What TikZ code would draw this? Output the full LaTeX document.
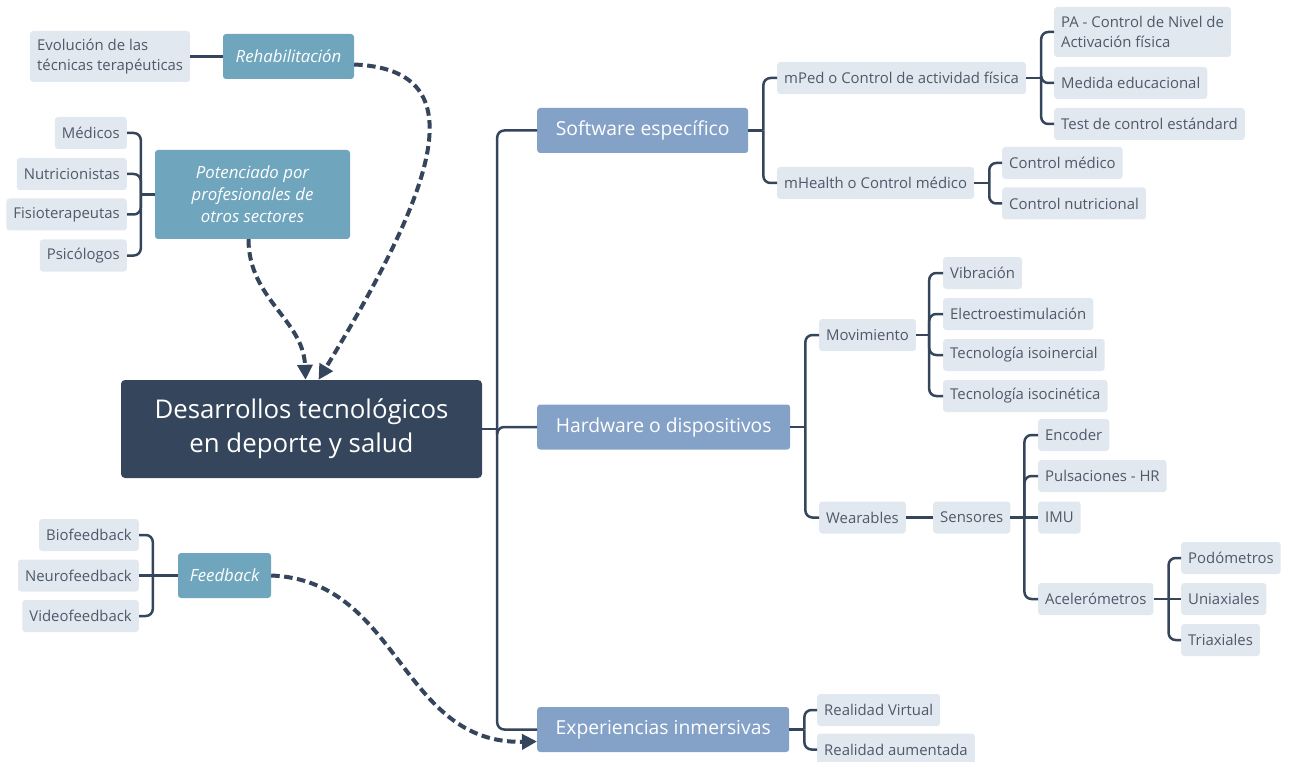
\documentclass[tikz,border=0pt]{standalone}
\usepackage{fontspec}
\setmainfont{Open Sans}
\usetikzlibrary{arrows.meta}
\definecolor{ink}{HTML}{34455C}
\definecolor{branchfill}{HTML}{84A2C8}
\definecolor{sidefill}{HTML}{6FA6BD}
\definecolor{leaffill}{HTML}{E2E8F0}
\definecolor{leaftext}{HTML}{4F5968}
\begin{document}
\begin{tikzpicture}[x=1pt,y=-1pt,
  leaf/.style={fill=leaffill, text=leaftext, rounded corners=3pt,
    font=\fontsize{14.9}{19.5}\selectfont, inner xsep=7pt, inner ysep=0pt,
    minimum height=32pt},
  branchbox/.style={fill=branchfill, text=white, rounded corners=3pt,
    font=\fontsize{19.3}{23}\selectfont, minimum height=45pt, anchor=west},
  sidebox/.style={fill=sidefill, text=white, rounded corners=3pt,
    font=\fontsize{16.8}{22}\selectfont\itshape, align=center},
  rootbox/.style={fill=ink, text=white, rounded corners=4pt,
    font=\fontsize{25.8}{34}\selectfont, align=center,
    minimum width=361pt, minimum height=98pt},
  conn/.style={draw=ink, line width=2.5pt, rounded corners=7pt},
  dashlink/.style={draw=ink, line width=4pt, dash pattern=on 8.5pt off 4.5pt,
    -{Triangle[length=15pt,width=15pt]}}
]
\useasboundingbox (0,0) rectangle (1293,762);

% central topic
\node[rootbox] (Root) at (301.5,429) {Desarrollos tecnológicos\\en deporte y salud};

% left side: floating topics
\node[leaf, anchor=west, align=left, minimum height=51pt] (Evol) at (30,56.5)
  {Evolución de las\\técnicas terapéuticas};
\node[sidebox, minimum width=131pt, minimum height=45pt] (Rehab) at (288.5,56.5) {Rehabilitación};

\node[sidebox, minimum width=195pt, minimum height=89pt] (Pot) at (252.5,194.5)
  {Potenciado por\\profesionales de\\otros sectores};
\node[leaf, anchor=east] (Med) at (127,133) {Médicos};
\node[leaf, anchor=east] (Nut) at (127,174) {Nutricionistas};
\node[leaf, anchor=east] (Fis) at (127,214.5) {Fisioterapeutas};
\node[leaf, anchor=east] (Psi) at (127,255.5) {Psicólogos};

\node[sidebox, minimum width=93pt, minimum height=45pt] (Feed) at (224.5,575.5) {Feedback};
\node[leaf, anchor=east] (Bio) at (139,535) {Biofeedback};
\node[leaf, anchor=east] (Neuro) at (139,575.5) {Neurofeedback};
\node[leaf, anchor=east] (Video) at (139,616) {Videofeedback};

% right side: main branches
\node[branchbox, minimum width=211pt] (Soft) at (537,130.5) {Software específico};
\node[branchbox, minimum width=253pt] (Hard) at (537,427) {Hardware o dispositivos};
\node[branchbox, minimum width=252pt] (Exp) at (537,729.5) {Experiencias inmersivas};

% software
\node[leaf, anchor=west] (mPed) at (777,78) {mPed o Control de actividad física};
\node[leaf, anchor=west] (mHealth) at (777,183) {mHealth o Control médico};
\node[leaf, anchor=west, align=left, minimum height=50pt] (PA) at (1054,32)
  {PA - Control de Nivel de\\Activación física};
\node[leaf, anchor=west] (Edu) at (1054,83) {Medida educacional};
\node[leaf, anchor=west] (Test) at (1054,124) {Test de control estándard};
\node[leaf, anchor=west] (CMed) at (1002,163) {Control médico};
\node[leaf, anchor=west] (CNut) at (1002,203.5) {Control nutricional};

% hardware
\node[leaf, anchor=west] (Mov) at (819,335) {Movimiento};
\node[leaf, anchor=west] (Vib) at (943,273) {Vibración};
\node[leaf, anchor=west] (Elec) at (943,314) {Electroestimulación};
\node[leaf, anchor=west] (Iner) at (943,355) {Tecnología isoinercial};
\node[leaf, anchor=west] (Cine) at (943,396) {Tecnología isocinética};
\node[leaf, anchor=west] (Wear) at (819,517.5) {Wearables};
\node[leaf, anchor=west] (Sens) at (933,517.5) {Sensores};
\node[leaf, anchor=west] (Enc) at (1038,435) {Encoder};
\node[leaf, anchor=west] (Puls) at (1038,476) {Pulsaciones - HR};
\node[leaf, anchor=west] (IMU) at (1038,517.5) {IMU};
\node[leaf, anchor=west] (Acc) at (1038,599) {Acelerómetros};
\node[leaf, anchor=west] (Podo) at (1181,558) {Podómetros};
\node[leaf, anchor=west] (Uni) at (1181,599) {Uniaxiales};
\node[leaf, anchor=west] (Tri) at (1181,640) {Triaxiales};

% immersive
\node[leaf, anchor=west] (RV) at (817,710) {Realidad Virtual};
\node[leaf, anchor=west] (RA) at (817,749.5) {Realidad aumentada};

% bracket junctions
\coordinate (trunk) at ([xshift=15pt]Root.east);
\coordinate (bSoft) at ([xshift=15pt]Soft.east);
\coordinate (bHard) at ([xshift=15pt]Hard.east);
\coordinate (bExp) at ([xshift=15pt]Exp.east);
\coordinate (bmPed) at ([xshift=15pt]mPed.east);
\coordinate (bmHealth) at ([xshift=15pt]mHealth.east);
\coordinate (bMov) at ([xshift=13pt]Mov.east);
\coordinate (bSens) at ([xshift=14pt]Sens.east);
\coordinate (bAcc) at ([xshift=15pt]Acc.east);
\coordinate (bPot) at ([xshift=-14pt]Pot.west);
\coordinate (bFeed) at ([xshift=-25pt]Feed.west);

% trunk
\draw[conn] (Root.east) -- (trunk);
\draw[conn] (trunk) |- (Soft.west);
\draw[conn] (trunk) |- (Hard.west);
\draw[conn] (trunk) |- (Exp.west);

% software connectors
\draw[conn] (Soft.east) -- (bSoft);
\draw[conn] (bSoft) |- (mPed.west);
\draw[conn] (bSoft) |- (mHealth.west);
\draw[conn] (mPed.east) -- (bmPed);
\draw[conn] (bmPed) |- (PA.west);
\draw[conn] (bmPed) |- (Edu.west);
\draw[conn] (bmPed) |- (Test.west);
\draw[conn] (mHealth.east) -- (bmHealth);
\draw[conn] (bmHealth) |- (CMed.west);
\draw[conn] (bmHealth) |- (CNut.west);

% hardware connectors
\draw[conn] (Hard.east) -- (bHard);
\draw[conn] (bHard) |- (Mov.west);
\draw[conn] (bHard) |- (Wear.west);
\draw[conn] (Mov.east) -- (bMov);
\draw[conn] (bMov) |- (Vib.west);
\draw[conn] (bMov) |- (Elec.west);
\draw[conn] (bMov) |- (Iner.west);
\draw[conn] (bMov) |- (Cine.west);
\draw[conn] (Wear.east) -- (Sens.west);
\draw[conn] (Sens.east) -- (bSens);
\draw[conn] (bSens) |- (Enc.west);
\draw[conn] (bSens) |- (Puls.west);
\draw[conn] (bSens) -- (IMU.west);
\draw[conn] (bSens) |- (Acc.west);
\draw[conn] (Acc.east) -- (bAcc);
\draw[conn] (bAcc) |- (Podo.west);
\draw[conn] (bAcc) -- (Uni.west);
\draw[conn] (bAcc) |- (Tri.west);

% immersive connectors
\draw[conn] (Exp.east) -- (bExp);
\draw[conn] (bExp) |- (RV.west);
\draw[conn] (bExp) |- (RA.west);

% left side connectors
\draw[conn] (Evol.east) -- (Rehab.west);
\draw[conn] (Pot.west) -- (bPot);
\draw[conn] (bPot) |- (Med.east);
\draw[conn] (bPot) |- (Nut.east);
\draw[conn] (bPot) |- (Fis.east);
\draw[conn] (bPot) |- (Psi.east);
\draw[conn] (Feed.west) -- (bFeed);
\draw[conn] (bFeed) |- (Bio.east);
\draw[conn] (bFeed) -- (Neuro.east);
\draw[conn] (bFeed) |- (Video.east);

% dashed relations
\draw[dashlink] ([yshift=-8pt]Rehab.east) .. controls +(118,5) and +(125,-205) .. ([xshift=17pt]Root.north);
\draw[dashlink] ([xshift=-4pt]Pot.south) .. controls +(0,60) and +(-2,-60) .. ([xshift=4pt]Root.north);
\draw[dashlink] (Feed.east) .. controls +(129,5) and +(-137,3) .. ([yshift=-12pt]Exp.west);
\end{tikzpicture}
\end{document}
